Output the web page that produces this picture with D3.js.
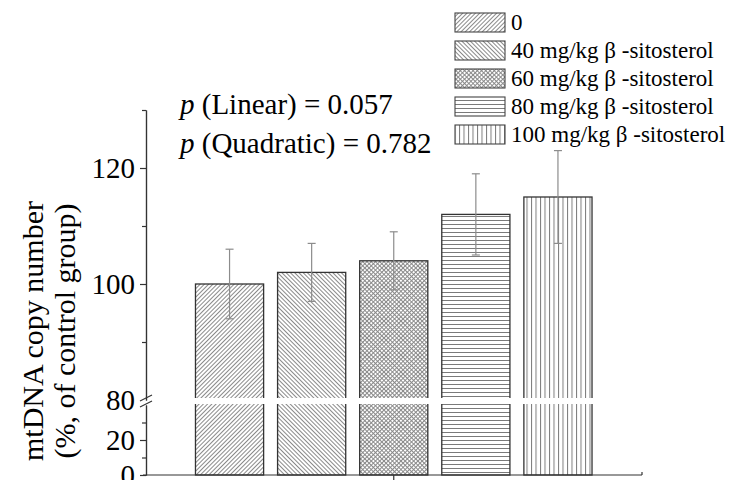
<!DOCTYPE html>
<html>
<head>
<meta charset="utf-8">
<script src="https://cdn.jsdelivr.net/npm/d3@7"></script>
<style>
  body { margin: 0; background: #fff; }
  text { font-family: "Liberation Serif", "Times New Roman", serif; fill: #000; }
</style>
</head>
<body>
<div id="chart"></div>
<script>
var groups = ["0", "40 mg/kg β -sitosterol", "60 mg/kg β -sitosterol", "80 mg/kg β -sitosterol", "100 mg/kg β -sitosterol"];
var means = [100, 102, 104, 112, 115];
var errs = [6, 5, 5, 7, 8];
var upperTicks = [80, 100, 120];
var upperMinor = [90, 110, 130];
var lowerTicks = [0, 20];
var lowerMinor = [10, 30];
var stats = [["Linear", "0.057"], ["Quadratic", "0.782"]];

var width = 729, height = 480;
var axisX = 146, baseY = 475, rightX = 642;

var svg = d3.select("#chart").append("svg")
    .attr("width", width)
    .attr("height", height);

// patterns
var defs = svg.append("defs");
function linePattern(id, size, angle, color) {
    var p = defs.append("pattern")
        .attr("id", id)
        .attr("patternUnits", "userSpaceOnUse")
        .attr("width", size).attr("height", size)
        .attr("patternTransform", "rotate(" + angle + ")");
    p.append("line")
        .attr("x1", 0.5).attr("y1", 0).attr("x2", 0.5).attr("y2", size)
        .attr("stroke", color).attr("stroke-width", 1);
    return p;
}
linePattern("pat0", 3, 45, "#8a8a8a");
linePattern("pat1", 3, -45, "#8a8a8a");
var cross = linePattern("pat2", 3, 45, "#8a8a8a");
cross.append("line")
    .attr("x1", 0).attr("y1", 0.5).attr("x2", 3).attr("y2", 0.5)
    .attr("stroke", "#8a8a8a").attr("stroke-width", 1);
linePattern("pat3", 4, 90, "#7a7a7a");
linePattern("pat4", 4.5, 0, "#7a7a7a");

// scales
var x = d3.scaleBand()
    .domain(groups)
    .range([188.5, 599])
    .paddingInner(0.17)
    .paddingOuter(0.085);

var yUp = d3.scaleLinear().domain([80, 130]).range([400, 110]);
var yLow = d3.scaleLinear().domain([0, 40]).range([baseY, 405]);

// bars
var bars = svg.append("g");
bars.selectAll("rect")
    .data(means)
    .enter()
    .append("rect")
    .attr("x", function(d, i) { return x(groups[i]); })
    .attr("y", function(d) { return yUp(d); })
    .attr("width", x.bandwidth())
    .attr("height", function(d) { return yLow(0) - yUp(d); })
    .attr("fill", function(d, i) { return "url(#pat" + i + ")"; })
    .attr("stroke", "#333")
    .attr("stroke-width", 1.3);

// error bars
var eb = svg.append("g")
    .attr("stroke", "#8c8c8c")
    .attr("stroke-width", 1.2);
means.forEach(function(m, i) {
    var cx = x(groups[i]) + x.bandwidth() / 2;
    eb.append("line")
        .attr("x1", cx).attr("x2", cx)
        .attr("y1", yUp(m + errs[i])).attr("y2", yUp(m - errs[i]));
    [m + errs[i], m - errs[i]].forEach(function(v) {
        eb.append("line")
            .attr("x1", cx - 4).attr("x2", cx + 4)
            .attr("y1", yUp(v)).attr("y2", yUp(v));
    });
});

// break gap through the bars
svg.append("rect")
    .attr("x", axisX + 4).attr("y", 398)
    .attr("width", rightX - axisX - 8).attr("height", 6)
    .attr("fill", "#fff");

// y axes
function styleAxis(g) {
    g.selectAll("path, line").attr("stroke", "#333").attr("stroke-width", 1.2);
    g.selectAll("text")
        .style("font-family", "Liberation Serif, serif")
        .style("font-size", "29px")
        .attr("fill", "#000");
}
var upG = svg.append("g")
    .attr("transform", "translate(" + axisX + ",0)")
    .call(d3.axisLeft(yUp).tickValues(upperTicks).tickSize(6).tickSizeOuter(0).tickPadding(5));
upG.call(styleAxis);
upG.selectAll(".tick").filter(function(d) { return d === 80; }).select("line").remove();
svg.append("g")
    .attr("transform", "translate(" + axisX + ",0)")
    .call(d3.axisLeft(yUp).tickValues(upperMinor).tickSize(4).tickSizeOuter(0).tickFormat(""))
    .call(styleAxis);

var lowG = svg.append("g")
    .attr("transform", "translate(" + axisX + ",0)")
    .call(d3.axisLeft(yLow).tickValues(lowerTicks).tickSize(6).tickSizeOuter(0).tickPadding(5));
lowG.call(styleAxis);
svg.append("g")
    .attr("transform", "translate(" + axisX + ",0)")
    .call(d3.axisLeft(yLow).tickValues(lowerMinor).tickSize(4).tickSizeOuter(0).tickFormat(""))
    .call(styleAxis);

// break marks on the axis
var brk = svg.append("g").attr("stroke", "#333").attr("stroke-width", 1.2);
brk.append("line").attr("x1", 140).attr("y1", 401).attr("x2", 152).attr("y2", 395);
brk.append("line").attr("x1", 140).attr("y1", 407).attr("x2", 152).attr("y2", 401);

// x axis
var xAx = svg.append("g").attr("stroke", "#333").attr("stroke-width", 1.2);
xAx.append("line").attr("x1", axisX - 3).attr("x2", rightX).attr("y1", baseY).attr("y2", baseY);
var midX = x(groups[2]) + x.bandwidth() / 2;
xAx.append("line").attr("x1", midX).attr("x2", midX).attr("y1", baseY).attr("y2", baseY + 6);
xAx.append("line").attr("x1", rightX).attr("x2", rightX).attr("y1", baseY).attr("y2", baseY - 3);

// y title
var title = svg.append("text")
    .attr("transform", "translate(0,331) rotate(-90)")
    .attr("text-anchor", "middle")
    .style("font-size", "30px");
title.append("tspan").attr("x", 0).attr("y", 43).text("mtDNA copy number");
title.append("tspan").attr("x", 0).attr("y", 75).text("(%, of control group)");

// p values
stats.forEach(function(s, i) {
    var t = svg.append("text")
        .attr("x", 180)
        .attr("y", 114 + i * 39)
        .style("font-size", "29px");
    t.append("tspan").style("font-style", "italic").text("p");
    t.append("tspan").text(" (" + s[0] + ") = " + s[1]);
});

// legend
var legend = svg.append("g");
groups.forEach(function(g, i) {
    var top = 13 + i * 28;
    legend.append("rect")
        .attr("x", 455).attr("y", top)
        .attr("width", 50).attr("height", 19)
        .attr("fill", "url(#pat" + i + ")")
        .attr("stroke", "#444").attr("stroke-width", 1.1);
    legend.append("text")
        .attr("x", 511).attr("y", top + 17)
        .style("font-size", "23px")
        .text(g);
});
</script>
</body>
</html>
